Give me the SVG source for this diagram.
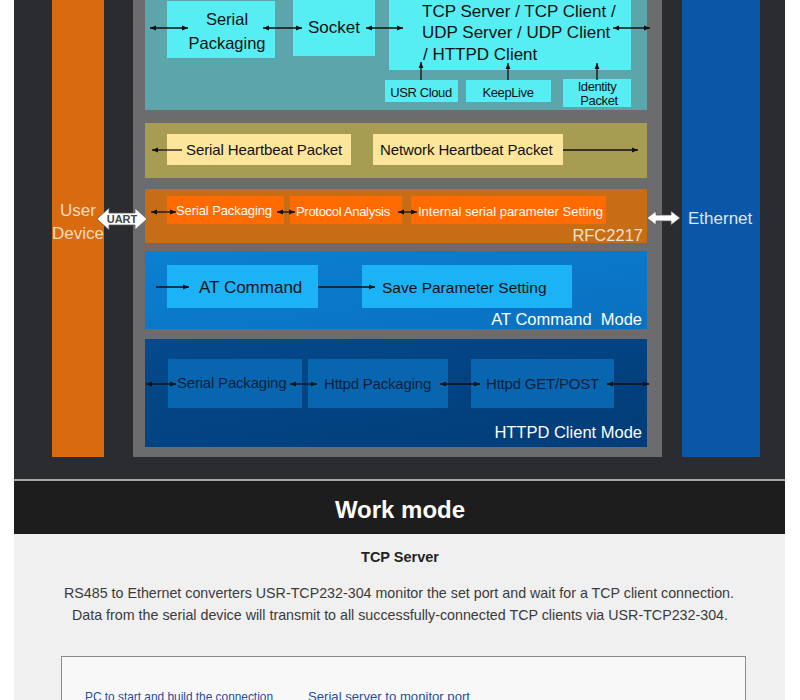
<svg xmlns="http://www.w3.org/2000/svg" width="800" height="700" viewBox="0 0 800 700">
<defs>
<marker id="ah" viewBox="0 0 10 10" refX="10" refY="5" markerWidth="6" markerHeight="6" markerUnits="userSpaceOnUse" orient="auto-start-reverse"><path d="M0,1 L10,5 L0,9 Z" fill="#111"/></marker>
<linearGradient id="gAT" x1="0" y1="0" x2="1" y2="1"><stop offset="0" stop-color="#0b80d2"/><stop offset="1" stop-color="#0a70bf"/></linearGradient>
<linearGradient id="gHT" x1="0" y1="0" x2="1" y2="1"><stop offset="0" stop-color="#044a8c"/><stop offset="1" stop-color="#013c77"/></linearGradient>
</defs>
<style>
text{font-family:"Liberation Sans",Arial,Helvetica,sans-serif}
.c{stroke:#111;stroke-width:1.3;fill:none}
.e{marker-end:url(#ah)}
.d{marker-start:url(#ah);marker-end:url(#ah)}
.cy{fill:#56eef3}
.yl{fill:#fde59c}
.or{fill:#ff6b00}
.lb{fill:#1bb2f6}
.db{fill:#0866b1}
.t17{font-size:17px;fill:#111}
.sm{font-size:13px;fill:#111;letter-spacing:-0.4px}
.ow{font-size:13px;fill:#fff}
.hb{font-size:15px;fill:#111}
.ht{font-size:15px;fill:#0d1f3a;letter-spacing:-0.2px}
.lab{font-size:16.5px;fill:#fff}
.wa{fill:#fff;stroke:#555;stroke-width:0.8}
</style>

<g id="background">
<rect x="0" y="0" width="800" height="700" fill="#ffffff"/>
<rect x="14" y="0" width="771" height="479" fill="#2b2c2f"/>
<rect x="14" y="479" width="771" height="2" fill="#a4a4a4"/>
<rect x="14" y="481" width="771" height="53" fill="#1d1d1d"/>
<rect x="14" y="534" width="771" height="166" fill="#f0f0f0"/>
</g>

<g id="user-device">
<rect x="52" y="-5" width="52" height="462" fill="#d86a10"/>
<text x="78" y="216" text-anchor="middle" font-size="17" fill="#f7dcc0">User</text>
<text x="78" y="239" text-anchor="middle" font-size="17" fill="#f7dcc0">Device</text>
</g>

<g id="module-frame">
<rect x="133" y="-5" width="529" height="462" fill="#6c6c6e"/>
</g>

<g id="ethernet">
<rect x="682" y="-5" width="78" height="462" fill="#0b56a7"/>
<text x="688" y="224" font-size="17" fill="#dce6f2">Ethernet</text>
</g>

<g id="socket-section">
<rect x="145" y="-5" width="502" height="115" fill="#5ca5aa"/>
</g>
<g id="serial-packaging-top">
<rect class="cy" x="167" y="1" width="108" height="57"/>
<text x="227" y="25" text-anchor="middle" font-size="16.5" fill="#111">Serial</text>
<text x="227" y="49" text-anchor="middle" font-size="16.5" fill="#111">Packaging</text>
</g>
<g id="socket">
<rect class="cy" x="293" y="-2" width="82" height="58"/>
<text class="t17" x="334" y="33" text-anchor="middle">Socket</text>
</g>
<g id="tcp-modes">
<rect class="cy" x="389" y="-5" width="242" height="75"/>
<text class="t17" x="422" y="17">TCP Server / TCP Client /</text>
<text class="t17" x="422" y="38">UDP Server / UDP Client</text>
<text class="t17" x="423" y="60">/ HTTPD Client</text>
</g>
<g id="usr-cloud">
<rect class="cy" x="385" y="80" width="73" height="22"/>
<text class="sm" x="421" y="97" text-anchor="middle">USR Cloud</text>
</g>
<g id="keeplive">
<rect class="cy" x="466" y="80" width="85" height="22"/>
<text class="sm" x="508" y="97" text-anchor="middle">KeepLive</text>
</g>
<g id="identity-packet">
<rect class="cy" x="563" y="79" width="68" height="28"/>
<text class="sm" x="597" y="91" text-anchor="middle" font-size="12.5">Identity</text>
<text class="sm" x="599" y="104.5" text-anchor="middle" font-size="12.5">Packet</text>
</g>

<g id="heartbeat-section">
<rect x="145" y="123" width="502" height="55" fill="#a79d52"/>
</g>
<g id="serial-heartbeat">
<rect class="yl" x="167" y="134" width="184" height="31"/>
<text class="hb" x="186" y="155" letter-spacing="-0.1">Serial Heartbeat Packet</text>
</g>
<g id="network-heartbeat">
<rect class="yl" x="373" y="134" width="190" height="31"/>
<text class="hb" x="380" y="155" letter-spacing="-0.1">Network Heartbeat Packet</text>
</g>

<g id="rfc2217-section">
<rect x="145" y="189" width="502" height="54" fill="#c76d15"/>
<text x="643" y="241" text-anchor="end" font-size="16.5" fill="#f3e2d0">RFC2217</text>
</g>
<g id="serial-packaging-rfc">
<rect class="or" x="167" y="196" width="117" height="28"/>
<text class="ow" x="176" y="215" letter-spacing="-0.1">Serial Packaging</text>
</g>
<g id="protocol-analysis">
<rect class="or" x="290" y="196" width="112" height="28"/>
<text class="ow" x="296" y="216" letter-spacing="-0.3">Protocol Analysis</text>
</g>
<g id="internal-serial">
<rect class="or" x="411" y="196" width="195" height="28"/>
<text class="ow" x="418" y="216">Internal serial parameter Setting</text>
</g>

<g id="at-section">
<rect x="145" y="251" width="502" height="78" fill="url(#gAT)"/>
<text class="lab" x="642" y="325" text-anchor="end" xml:space="preserve">AT Command  Mode</text>
</g>
<g id="at-command">
<rect class="lb" x="167" y="265" width="151" height="43"/>
<text class="t17" x="199" y="293">AT Command</text>
</g>
<g id="save-parameter">
<rect class="lb" x="362" y="265" width="210" height="43"/>
<text x="382" y="293" font-size="15.5" fill="#111">Save Parameter Setting</text>
</g>

<g id="httpd-section">
<rect x="145" y="339" width="502" height="108" fill="url(#gHT)"/>
<text class="lab" x="642" y="438" text-anchor="end">HTTPD Client Mode</text>
</g>
<g id="serial-packaging-httpd">
<rect class="db" x="168" y="359" width="134" height="49"/>
<text class="ht" x="177" y="388">Serial Packaging</text>
</g>
<g id="httpd-packaging">
<rect class="db" x="308" y="359" width="140" height="49"/>
<text class="ht" x="324" y="389">Httpd Packaging</text>
</g>
<g id="httpd-get-post">
<rect class="db" x="471" y="359" width="143" height="49"/>
<text class="ht" x="486" y="389">Httpd GET/POST</text>
</g>

<g id="connectors">
<line class="c d" x1="150" y1="28" x2="188" y2="28"/>
<line class="c d" x1="263" y1="28" x2="302" y2="28"/>
<line class="c d" x1="366" y1="28" x2="403" y2="28"/>
<line class="c d" x1="613" y1="28" x2="650" y2="28"/>
<line class="c e" x1="421" y1="80" x2="421" y2="62"/>
<line class="c e" x1="508" y1="80" x2="508" y2="63"/>
<line class="c e" x1="597" y1="80" x2="597" y2="63"/>
<line class="c e" x1="182" y1="150" x2="152" y2="150"/>
<line class="c e" x1="563" y1="150" x2="638" y2="150"/>
<line class="c d" x1="151" y1="212" x2="176" y2="212"/>
<line class="c d" x1="277" y1="212" x2="295" y2="212"/>
<line class="c d" x1="398" y1="212" x2="417" y2="212"/>
<line class="c e" x1="156" y1="287" x2="189" y2="287"/>
<line class="c e" x1="318" y1="287" x2="375" y2="287"/>
<line class="c d" x1="146" y1="384" x2="176" y2="384"/>
<line class="c d" x1="290" y1="384" x2="317" y2="384"/>
<line class="c d" x1="440" y1="384" x2="480" y2="384"/>
<line class="c d" x1="607" y1="384" x2="649" y2="384"/>
<path class="wa" d="M97,219 L109,208 L109,213 L135,213 L135,208 L147,219 L135,230 L135,225 L109,225 L109,230 Z"/>
<text x="122" y="223" text-anchor="middle" font-size="11" font-weight="bold" fill="#444">UART</text>
<path class="wa" d="M647,218 L656,211 L656,215 L671,215 L671,211 L680,218 L671,225 L671,221 L656,221 L656,225 Z"/>
</g>

<g id="work-mode">
<text x="400" y="518" text-anchor="middle" font-size="24" font-weight="bold" fill="#ffffff">Work mode</text>
<text x="400" y="562" text-anchor="middle" font-size="14.5" font-weight="bold" fill="#222">TCP Server</text>
<text x="64" y="598" font-size="15" fill="#3a3a3a" textLength="670" lengthAdjust="spacingAndGlyphs">RS485 to Ethernet converters USR-TCP232-304 monitor the set port and wait for a TCP client connection.</text>
<text x="72" y="620" font-size="15" fill="#3a3a3a" textLength="656" lengthAdjust="spacingAndGlyphs">Data from the serial device will transmit to all successfully-connected TCP clients via USR-TCP232-304.</text>
</g>

<g id="tcp-server-figure">
<rect x="61.5" y="656.5" width="684" height="60" fill="#f8f8f8" stroke="#8a8a8a" stroke-width="1"/>
<text x="85" y="701" font-size="13" fill="#1f4e9c" textLength="188" lengthAdjust="spacingAndGlyphs">PC to start and build the connection</text>
<text x="308" y="701" font-size="13" fill="#1f4e9c" textLength="162" lengthAdjust="spacingAndGlyphs">Serial server to monitor port</text>
</g>
</svg>
